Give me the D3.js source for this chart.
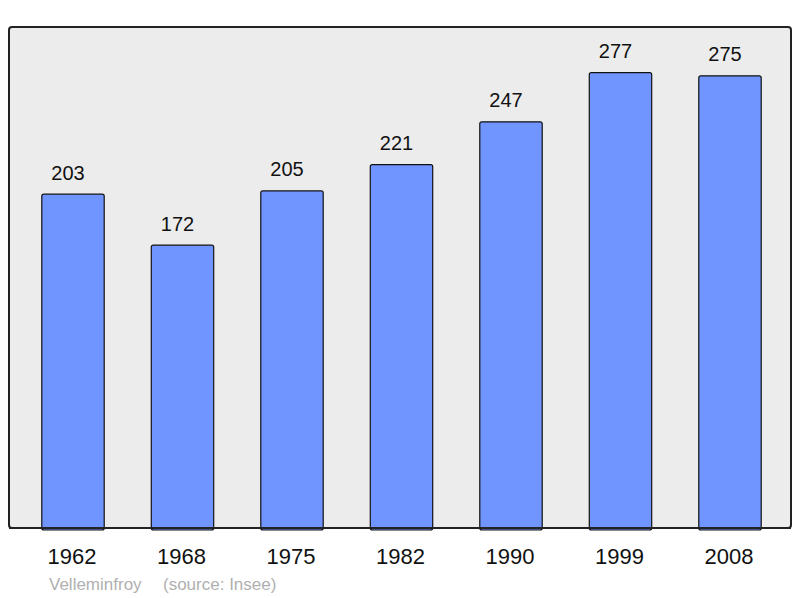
<!DOCTYPE html>
<html><head><meta charset="utf-8">
<script src="https://cdn.jsdelivr.net/npm/d3@7"></script>
<style>body{margin:0;background:#fff}svg{display:block}</style>
</head><body>
<script>
const years = ["1962","1968","1975","1982","1990","1999","2008"];
const population = [203,172,205,221,247,277,275];
const commune = "Velleminfroy";
const source = "(source: Insee)";

const W = 800, H = 598;
const svg = d3.select("body").append("svg").attr("width", W).attr("height", H);
const font = "Liberation Sans, Arial, sans-serif";

const frame = {x0: 9, y0: 27, x1: 791, y1: 528};
svg.append("rect").attr("x", frame.x0).attr("y", frame.y0)
  .attr("width", frame.x1 - frame.x0).attr("height", frame.y1 - frame.y0)
  .attr("rx", 3).attr("fill", "#ececec").attr("stroke", "#222").attr("stroke-width", 2);

const x = d3.scaleBand().domain(years).range([18.25, 784.75]).paddingInner(0.43).paddingOuter(0.215);
const y = d3.scaleLinear().domain([0, d3.max(population) * 1.1]).range([frame.y1, frame.y0]);

const data = years.map((yr, i) => ({yr, v: population[i]}));

svg.selectAll("rect.bar").data(data).enter().append("rect").attr("class", "bar")
  .attr("x", d => x(d.yr)).attr("y", d => y(d.v))
  .attr("width", x.bandwidth()).attr("height", d => frame.y1 - y(d.v) + 2)
  .attr("rx", 2).attr("fill", "#7095ff").attr("stroke", "#111").attr("stroke-width", 1.2);

svg.append("line").attr("x1", frame.x0).attr("x2", frame.x1).attr("y1", frame.y1).attr("y2", frame.y1)
  .attr("stroke", "#222").attr("stroke-width", 2);

svg.selectAll("text.val").data(data).enter().append("text").attr("class", "val")
  .attr("x", d => x(d.yr) + x.bandwidth() / 2 - 5).attr("y", d => y(d.v) - 14.5)
  .attr("text-anchor", "middle").attr("font-family", font).attr("font-size", 20).attr("fill", "#111")
  .text(d => d.v);

svg.selectAll("text.yr").data(data).enter().append("text").attr("class", "yr")
  .attr("x", d => x(d.yr) + x.bandwidth() / 2 - 1).attr("y", 564)
  .attr("text-anchor", "middle").attr("font-family", font).attr("font-size", 22).attr("fill", "#111")
  .text(d => d.yr);

svg.append("text").attr("x", 49).attr("y", 590).attr("font-family", font).attr("font-size", 17)
  .attr("fill", "#b0b0b0").text(commune);
svg.append("text").attr("x", 163).attr("y", 590).attr("font-family", font).attr("font-size", 17)
  .attr("fill", "#b0b0b0").text(source);
</script>
</body></html>
